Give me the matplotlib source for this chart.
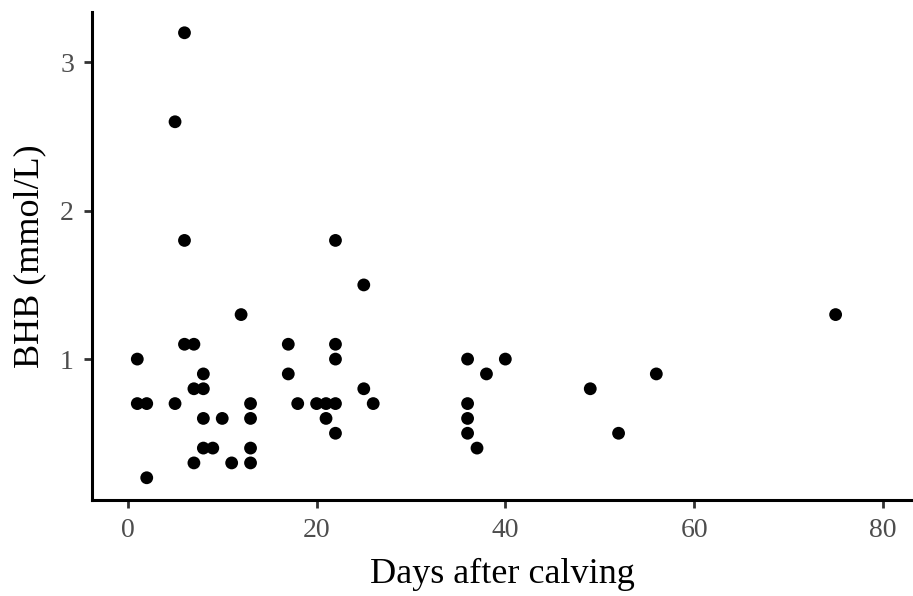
import matplotlib
matplotlib.use("Agg")
import matplotlib.pyplot as plt

days = [1, 1, 2, 2, 5, 5, 6, 6, 6, 7, 7, 7, 8, 8, 8, 8, 9, 10, 11, 12,
        13, 13, 13, 13, 17, 17, 18, 20, 21, 21, 22, 22, 22, 22, 22, 25, 25, 26,
        36, 36, 36, 36, 37, 38, 40, 49, 52, 56, 75]
bhb = [1.0, 0.7, 0.7, 0.2, 2.6, 0.7, 3.2, 1.8, 1.1, 1.1, 0.8, 0.3, 0.9, 0.8, 0.6, 0.4, 0.4, 0.6, 0.3, 1.3,
       0.7, 0.6, 0.4, 0.3, 1.1, 0.9, 0.7, 0.7, 0.7, 0.6, 1.8, 1.1, 1.0, 0.7, 0.5, 1.5, 0.8, 0.7,
       1.0, 0.7, 0.6, 0.5, 0.4, 0.9, 1.0, 0.8, 0.5, 0.9, 1.3]
xticks = [0, 20, 40, 60, 80]
yticks = [1, 2, 3]

plt.rcParams['font.family'] = ['Liberation Serif', 'DejaVu Serif']

fig = plt.figure(figsize=(9.13, 5.96), dpi=100)
ax = fig.add_axes([92/913, 1 - 500/596, 1 - 92/913, (500 - 12)/596])
ax.scatter(days, bhb, s=85, color='black', edgecolors='none', zorder=3)
ax.set_xlim(-3.8, 83.2)
ax.set_ylim(0.05, 3.34)
ax.set_xticks(xticks)
ax.set_yticks(yticks)
for side in ['top', 'right']:
    ax.spines[side].set_visible(False)
for side in ['left', 'bottom']:
    ax.spines[side].set_linewidth(2.2)
    ax.spines[side].set_color('black')
ax.tick_params(axis='both', length=6, width=2, color='#333333',
               labelsize=20, labelcolor='#4D4D4D', pad=7)
ax.set_xlabel('Days after calving', fontsize=26, labelpad=11)
ax.set_ylabel('BHB (mmol/L)', fontsize=26, labelpad=10)
fig.savefig('out.png', dpi=100)
